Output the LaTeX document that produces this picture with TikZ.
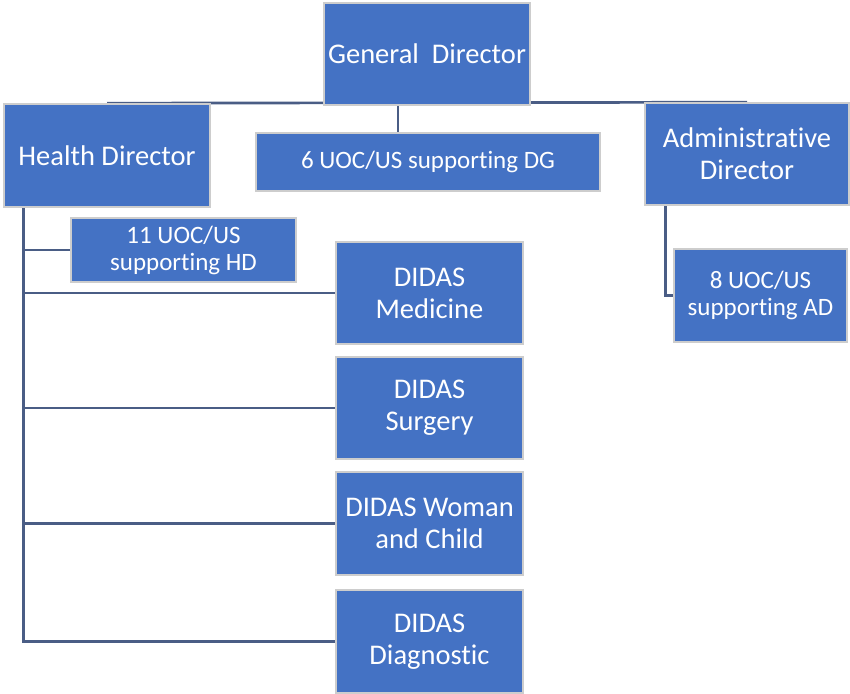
\documentclass[tikz,border=0pt]{standalone}
\usepackage{fontspec}
\setmainfont{Carlito}[Ligatures=NoCommon]
\usetikzlibrary{calc,backgrounds}
\definecolor{boxblue}{HTML}{4472C4}
\definecolor{boxedge}{HTML}{CDCDCD}
\definecolor{linkcol}{HTML}{4A5D85}
\tikzset{
  unit/.style={draw=boxedge, line width=1.6pt, fill=boxblue, text=white,
    inner sep=0pt, align=center, font=\fontsize{28.5}{32}\selectfont},
  smallunit/.style={unit, font=\fontsize{25}{27}\selectfont},
  link/.style={draw=linkcol, line width=2.7pt}
}
\begin{document}
\begin{tikzpicture}[x=1pt,y=-1pt]
\useasboundingbox (0,0) rectangle (850,693);
% directors
\node[unit, minimum width=206pt, minimum height=102pt] (gd) at (427,54) {General~~Director};
\node[unit, minimum width=206pt, minimum height=103pt] (hd) at (107,155.5) {Health Director};
\node[unit, minimum width=204pt, minimum height=102pt] (ad) at (747,154) {Administrative\\Director};
% support units
\node[smallunit, minimum width=344pt, minimum height=58pt] (dg6) at (428,162) {6 UOC/US supporting DG};
\node[smallunit, minimum width=225pt, minimum height=64pt] (hd11) at (183.5,250) {11 UOC/US\\supporting HD};
\node[smallunit, minimum width=173pt, minimum height=93pt] (ad8) at (760.5,295.5) {8 UOC/US\\supporting AD};
% departments
\node[unit, minimum width=187pt, minimum height=102pt] (med) at (429.5,293) {DIDAS\\Medicine};
\node[unit, minimum width=187pt, minimum height=102pt] (sur) at (429.5,408) {DIDAS\\Surgery};
\node[unit, minimum width=187pt, minimum height=103pt] (wc) at (429.5,523.5) {DIDAS Woman\\and Child};
\node[unit, minimum width=187pt, minimum height=103pt] (dia) at (429.5,641.5) {DIDAS\\Diagnostic};
% connectors
\begin{scope}[on background layer]
  \coordinate (gdtap) at ($(gd.south)+(-29,0)$);
  \coordinate (hdtap) at ($(hd.south west)+(20,0)$);
  \coordinate (adtap) at ($(ad.south west)+(21,0)$);
  \draw[link] (hd.north) -- (ad.north);
  \draw[link] (gdtap) -- (gdtap |- dg6.north);
  \draw[link] (hdtap) |- (hd11.west);
  \draw[link] (hdtap) |- (med.west);
  \draw[link] (hdtap) |- (sur.west);
  \draw[link] (hdtap) |- (wc.west);
  \draw[link] (hdtap) |- (dia.west);
  \draw[link] (adtap) |- (ad8.west);
\end{scope}
\end{tikzpicture}
\end{document}
